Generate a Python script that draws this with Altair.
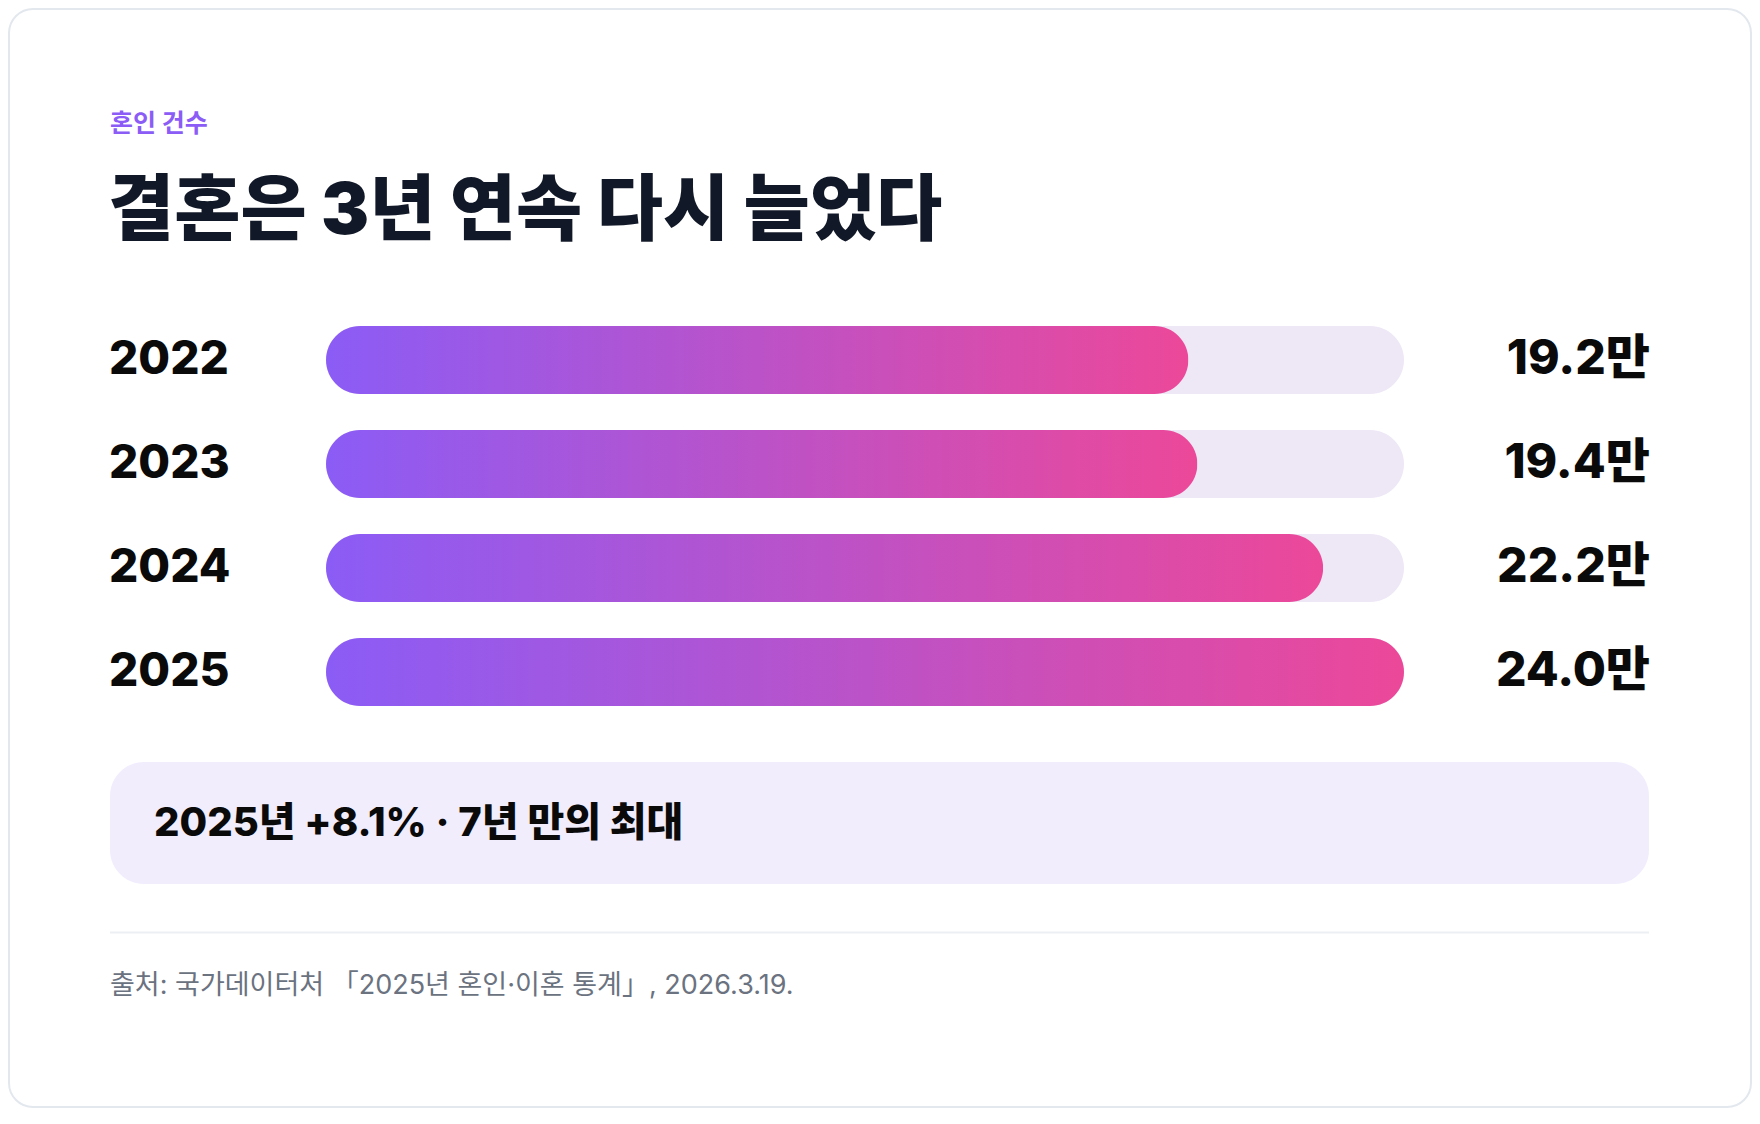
import altair as alt
import pandas as pd

# ---- data ----
years = ["2022", "2023", "2024", "2025"]
values = [19.2, 19.4, 22.2, 24.0]
unit = "만"

eyebrow = "혼인 건수"
title_text = "결혼은 3년 연속 다시 늘었다"
callout_text = "2025년 +8.1% · 7년 만의 최대"
source_text = "출처: 국가데이터처 「2025년 혼인·이혼 통계」, 2026.3.19."

# ---- layout ----
W, H = 1744, 1100
LEFT = 102
RIGHT = 1641
LATIN = "Inter, 'Noto Sans CJK KR', sans-serif"
CJK = "'Noto Sans CJK KR', sans-serif"

df = pd.DataFrame({"year": years, "value": values})
one = pd.DataFrame({"k": [0]})

x_scale = alt.Scale(domain=[0, max(values)], range=[318, 1396], nice=False, zero=True)
y_scale = alt.Scale(type="band", domain=years, range=[318, 698],
                    paddingInner=36 / 104, paddingOuter=0)

X = lambda f: alt.X(f, scale=x_scale, axis=None)
Y = alt.Y("year:N", scale=y_scale, axis=None)


def text_layer(txt, x, y, size, weight, color, font, align="left"):
    return alt.Chart(pd.DataFrame({"t": [txt]})).mark_text(
        align=align, baseline="middle", fontSize=size, fontWeight=weight,
        color=color, font=font
    ).encode(x=alt.value(x), y=alt.value(y), text="t:N")


card = alt.Chart(one).mark_rect(
    cornerRadius=24, fill="white", stroke="#e3e8ee", strokeWidth=2
).encode(x=alt.value(1), x2=alt.value(W - 1), y=alt.value(1), y2=alt.value(H - 1))

eyebrow_l = text_layer(eyebrow, LEFT, 116, 25, 700, "#8b5cf6", CJK)
title_l = text_layer(title_text, LEFT - 2, 204, 72, 900, "#111827", LATIN)

track = alt.Chart(df).transform_joinaggregate(maxv="max(value)").mark_bar(
    cornerRadius=34, color="#ede7f6"
).encode(x=X("maxv:Q"), y=Y)

grad = alt.Gradient(
    gradient="linear",
    stops=[alt.GradientStop(color="#8b5cf6", offset=0),
           alt.GradientStop(color="#ec4899", offset=1)],
    x1=0, x2=1, y1=0, y2=0,
)
bars = alt.Chart(df).mark_bar(cornerRadius=34, color=grad).encode(x=X("value:Q"), y=Y)

year_labels = alt.Chart(df).mark_text(
    align="left", baseline="middle", fontSize=46, fontWeight=800,
    font=LATIN, color="#0a0a0a"
).encode(x=alt.value(LEFT - 1), y=Y, text="year:N")

value_labels = alt.Chart(df).transform_calculate(
    lbl="format(datum.value, '.1f') + '" + unit + "'"
).mark_text(
    align="right", baseline="middle", fontSize=48, fontWeight=800,
    font=LATIN, color="#0a0a0a"
).encode(x=alt.value(RIGHT + 1), y=Y, text="lbl:N")

callout_box = alt.Chart(one).mark_rect(cornerRadius=34, fill="#f1edfd").encode(
    x=alt.value(LEFT), x2=alt.value(RIGHT), y=alt.value(754), y2=alt.value(876)
)
callout_l = text_layer(callout_text, 146, 815.5, 40, 800, "#0a0a0a", LATIN)

divider = alt.Chart(one).mark_rule(color="#eceff4", strokeWidth=2).encode(
    x=alt.value(LEFT), x2=alt.value(RIGHT), y=alt.value(924.5)
)
source_l = text_layer(source_text, LEFT, 978, 27, 400, "#6b7280", LATIN)

chart = alt.layer(
    card, eyebrow_l, title_l, track, bars, year_labels, value_labels,
    callout_box, callout_l, divider, source_l
).properties(
    width=W, height=H,
    autosize=alt.AutoSizeParams(type="none"),
    padding=0,
    background="white",
).configure_view(strokeWidth=0)

chart.save("out.html", embed_options={"renderer": "svg", "actions": False})
